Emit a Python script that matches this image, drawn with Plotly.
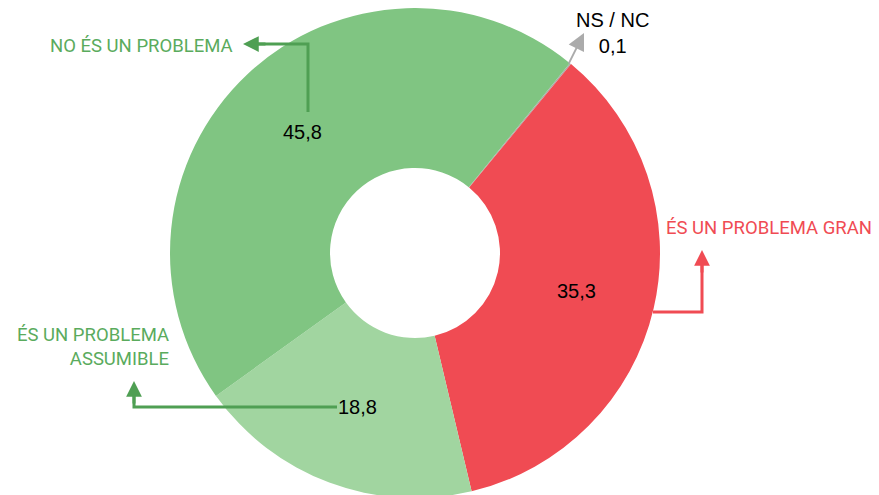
import plotly.graph_objects as go

W, H = 879, 495
OFF = 8  # page body margin: shift drawing so it lands where the reference has it

# data (clockwise from the thin NS/NC slice)
categories = ["NS / NC", "ÉS UN PROBLEMA GRAN", "ÉS UN PROBLEMA<br>ASSUMIBLE", "NO ÉS UN PROBLEMA"]
values = [0.1, 35.3, 18.8, 45.8]
slice_colors = ["#ababab", "#f04b53", "#a1d5a0", "#80c582"]
label_colors = ["#000000", "#f04b53", "#5aab5d", "#5aab5d"]
arrow_colors = ["#ababab", "#f04b53", "#4f9f53", "#4f9f53"]

LABEL_FONT = "Roboto, Liberation Sans, sans-serif"
NUM_FONT = "Liberation Sans, Arial, sans-serif"


def px(x, y):
    return (x - OFF) / W, 1 - (y - OFF) / H


def fmt(v):
    return f"{v:.1f}".replace(".", ",")


# ring: centre (415, 253), outer radius 245, inner radius 85 (screen px)
cx, cy, r = 415 - OFF, 253 - OFF, 245
fig = go.Figure(go.Pie(
    labels=[c.replace("<br>", " ") for c in categories],
    values=values,
    sort=False,
    direction="clockwise",
    rotation=39.2,
    hole=85 / 245,
    marker=dict(colors=slice_colors, line=dict(width=0)),
    textinfo="none",
    hoverinfo="label+value",
    showlegend=False,
    domain=dict(x=[(cx - r) / W, (cx + r) / W], y=[1 - (cy + r) / H, 1 - (cy - r) / H]),
))

ann = []
shapes = []


def text(x, y, s, font, size, color, xanchor="center", align="center"):
    xp, yp = px(x, y)
    ann.append(dict(x=xp, y=yp, xref="paper", yref="paper", text=s, showarrow=False,
                    xanchor=xanchor, yanchor="middle", align=align,
                    font=dict(family=font, size=size, color=color)))


# value labels inside the ring
text(302, 132, fmt(values[3]), NUM_FONT, 20, "#000000")
text(576, 291, fmt(values[1]), NUM_FONT, 20, "#000000")
text(357, 407, fmt(values[2]), NUM_FONT, 20, "#000000")
# NS / NC label + value above the ring
text(612, 33, f"{categories[0]}<br>{fmt(values[0])}", NUM_FONT, 20, label_colors[0])

# category labels
text(235, 46, categories[3], LABEL_FONT, 18.5, label_colors[3], xanchor="right")
text(664, 228, categories[1], LABEL_FONT, 18.5, label_colors[1], xanchor="left")
text(171, 347, categories[2], LABEL_FONT, 18.5, label_colors[2], xanchor="right", align="right")


# elbow connector lines
def path(points, color, width=3):
    d = "M " + " L ".join("{},{}".format(*px(x, y)) for x, y in points)
    shapes.append(dict(type="path", path=d, xref="paper", yref="paper",
                       line=dict(color=color, width=width)))


path([(308, 112), (308, 44), (256, 44)], arrow_colors[3])
path([(653, 312), (702, 312), (702, 264)], arrow_colors[1])
path([(337, 407), (134, 407), (134, 395)], arrow_colors[2])


def head(tip, dx, dy, color, width=3, size=1.05):
    xp, yp = px(*tip)
    ann.append(dict(x=xp, y=yp, xref="paper", yref="paper", text="", showarrow=True,
                    ax=dx, ay=dy, arrowhead=2, arrowsize=size, arrowwidth=width,
                    arrowcolor=color, standoff=0, startstandoff=0))


head((243, 44), 24, 0, arrow_colors[3])
head((702, 250), 0, 24, arrow_colors[1])
head((134, 381), 0, 24, arrow_colors[2])
head((584, 33), -16, 32, arrow_colors[0], width=1.8, size=1.9)

fig.update_layout(
    width=W, height=H,
    margin=dict(l=0, r=0, t=0, b=0),
    paper_bgcolor="#ffffff",
    plot_bgcolor="#ffffff",
    annotations=ann,
    shapes=shapes,
)

fig.write_html("out.html")
